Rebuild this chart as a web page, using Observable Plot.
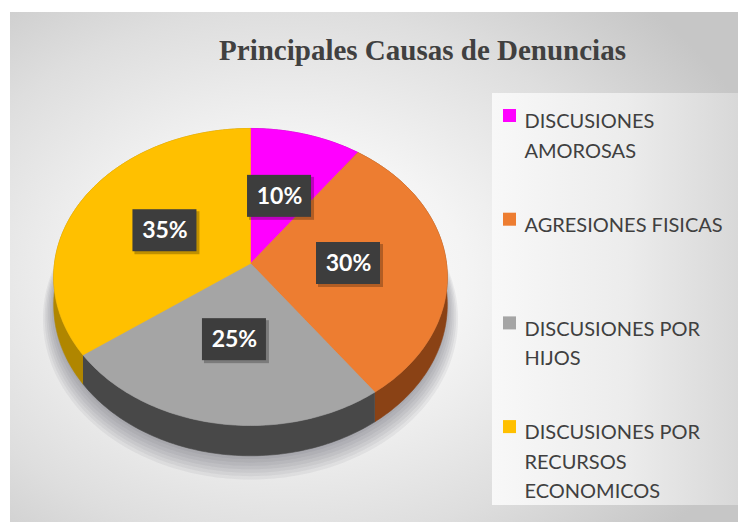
<!DOCTYPE html>
<html><head><meta charset="utf-8">
<script src="https://cdn.jsdelivr.net/npm/d3@7"></script>
<script src="https://cdn.jsdelivr.net/npm/@observablehq/plot@0.6"></script>
<style>
html,body{margin:0;padding:0;background:#fff;width:738px;height:522px;overflow:hidden;}
#frame{position:absolute;left:10px;top:12px;width:728px;height:510px;}
</style></head><body><div id="frame"></div>
<script>
// ---- data ----
const title = "Principales Causas de Denuncias";
const categories = ["DISCUSIONES AMOROSAS", "AGRESIONES FISICAS", "DISCUSIONES POR HIJOS", "DISCUSIONES POR RECURSOS ECONOMICOS"];
const legendLabels = ["DISCUSIONES\nAMOROSAS", "AGRESIONES FISICAS", "DISCUSIONES POR\nHIJOS", "DISCUSIONES POR\nRECURSOS\nECONOMICOS"];
const values = [10, 30, 25, 35];
const colors = ["#ff00ff", "#ed7d31", "#a5a5a5", "#ffc000"];
const sideColors = ["#a000a0", "#8a4215", "#484848", "#b08600"];

// ---- layout (pixel space of the plot) ----
const W = 728, H = 510;
const cx = 240, cy = 251, rx = 196, ry = 147.3, persp = 0.0909, depth = 27.5;
function proj(theta, r = 1, dz = 0) {
  const u = Math.sin(theta) * r, v = -Math.cos(theta) * r;
  const s = 1 / (1 - persp * v);
  return [cx + rx * u * s, cy + (ry * v + dz) * s];
}
function arc(a0, a1, r = 1, dz = 0) {
  const n = Math.max(2, Math.ceil((a1 - a0) / (Math.PI / 180)));
  const pts = [];
  for (let i = 0; i <= n; i++) pts.push(proj(a0 + (a1 - a0) * i / n, r, dz));
  return pts;
}

const arcs = d3.pie().sort(null).startAngle(0).endAngle(2 * Math.PI)(values);

const tops = [], sides = [], shadow = [];
arcs.forEach((a, i) => {
  const t = [proj(0, 0), ...arc(a.startAngle, a.endAngle), proj(0, 0)];
  t.forEach(([x, y]) => tops.push({id: i, x, y, c: colors[i]}));
  const s = [...arc(a.startAngle, a.endAngle), ...arc(a.startAngle, a.endAngle, 1, depth).reverse()];
  s.forEach(([x, y]) => sides.push({id: i, x, y, c: sideColors[i]}));
});
for (let k = 0; k < 7; k++) {
  arc(0, 2 * Math.PI, 1.0 + 0.009 * k, depth + 3 + 1.6 * k).forEach(([x, y]) => shadow.push({k, x, y}));
}

const labels = arcs.map((a, i) => {
  const [x, y] = proj((a.startAngle + a.endAngle) / 2, 0.5);
  return {x, y, text: Math.round(100 * values[i] / d3.sum(values)) + "%"};
});
const bw = 32, bh = 21;

const legendTop = 95, legendStep = 103.7;
const legend = categories.map((c, i) => ({cat: c, label: legendLabels[i], color: colors[i], y: legendTop + i * legendStep}));

function defs() {
  const d = d3.create("svg:defs");
  const g = d.append("linearGradient").attr("id", "legendGrad").attr("x1", 0).attr("x2", 1).attr("y1", 0).attr("y2", 0);
  g.append("stop").attr("offset", "0%").attr("stop-color", "#f8f8f8");
  g.append("stop").attr("offset", "55%").attr("stop-color", "#ececec");
  g.append("stop").attr("offset", "100%").attr("stop-color", "#d8d8d8");
  return d.node();
}

const chart = Plot.plot({
  width: W, height: H, margin: 0,
  x: {type: "linear", domain: [0, W], range: [0, W], axis: null},
  y: {type: "linear", domain: [0, H], range: [0, H], axis: null},
  color: {type: "identity"},
  style: {background: "radial-gradient(ellipse 70% 75% at 38% 52%, #ffffff 0%, #f4f4f4 35%, #dedede 70%, #c6c6c6 100%)", overflow: "visible"},
  marks: [
    defs,
    Plot.rect([0], {x1: 482, x2: W, y1: 81, y2: 493, fill: "url(#legendGrad)"}),
    Plot.line(shadow, {x: "x", y: "y", z: "k", fill: "#404050", fillOpacity: 0.07, stroke: "none"}),
    Plot.line(sides, {x: "x", y: "y", z: "id", fill: "c", stroke: "c", strokeWidth: 0.6}),
    Plot.line(tops, {x: "x", y: "y", z: "id", fill: "c", stroke: "c", strokeWidth: 0.6}),
    Plot.rect(labels, {x1: d => d.x - bw + 2, x2: d => d.x + bw + 3, y1: d => d.y - bh + 2, y2: d => d.y + bh + 3, fill: "#000", fillOpacity: 0.25}),
    Plot.rect(labels, {x1: d => d.x - bw, x2: d => d.x + bw, y1: d => d.y - bh, y2: d => d.y + bh, fill: "#3d3d3d"}),
    Plot.text(labels, {x: "x", y: "y", text: "text", fill: "#ffffff", fontSize: 23, fontWeight: "bold", fontFamily: "Lato", textAnchor: "middle", lineAnchor: "middle"}),
    Plot.text([title], {x: 412, y: 27, text: d => d, fontFamily: "Liberation Serif", fontWeight: "bold", fontSize: 29, fill: "#404040", textAnchor: "middle", lineAnchor: "top"}),
    Plot.rect(legend, {x1: 493, x2: 506, y1: d => d.y + 2, y2: d => d.y + 15, fill: "color"}),
    Plot.text(legend, {x: 514, y: "y", text: "label", fontFamily: "Lato", fontSize: 20, lineHeight: 1.47, fill: "#404040", textAnchor: "start", lineAnchor: "top"})
  ]
});
document.getElementById("frame").appendChild(chart);
</script>
</body></html>
